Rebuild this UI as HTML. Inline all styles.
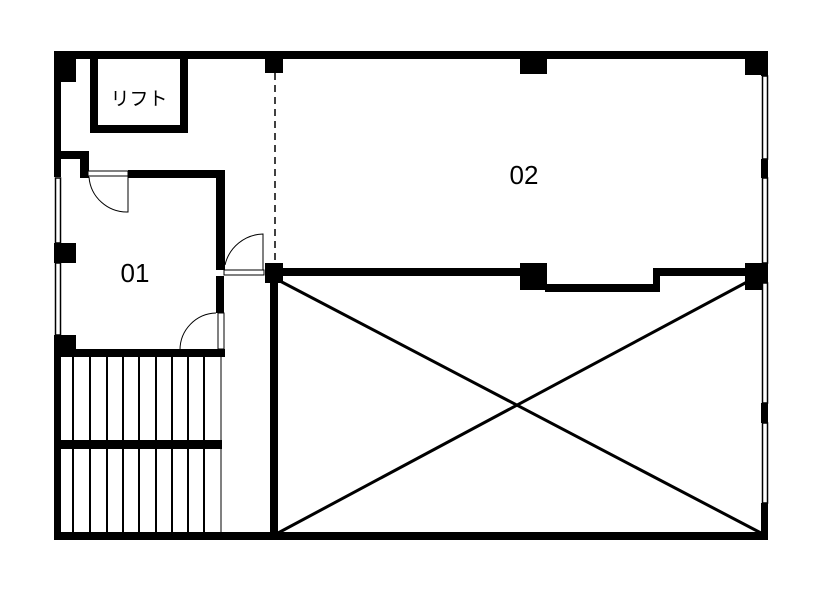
<!DOCTYPE html>
<html><head><style>body{margin:0;background:#fff}svg{display:block}</style></head><body>
<svg width="821" height="593" viewBox="0 0 821 593" xmlns="http://www.w3.org/2000/svg">
<rect width="821" height="593" fill="#fff"/>
<g fill="#000">
<rect x="54" y="51" width="714" height="8"/>
<rect x="54" y="532" width="714" height="8"/>
<rect x="54" y="51" width="7" height="126"/>
<rect x="54" y="151" width="35" height="8"/>
<rect x="80" y="151" width="9" height="27"/>
<rect x="54" y="243" width="22" height="20"/>
<rect x="54" y="335" width="22" height="22"/>
<rect x="54" y="335" width="7" height="205"/>
<rect x="54" y="58" width="22" height="24"/>
<rect x="265" y="58" width="18" height="15"/>
<rect x="520" y="58" width="27" height="16"/>
<rect x="745" y="58" width="23" height="17"/>
<rect x="761" y="51" width="7" height="25"/>
<rect x="761" y="159" width="7" height="19"/>
<rect x="761" y="263" width="7" height="20"/>
<rect x="761" y="403" width="7" height="20"/>
<rect x="761" y="503" width="7" height="37"/>
<rect x="90" y="58" width="8" height="75"/>
<rect x="180" y="58" width="8" height="75"/>
<rect x="90" y="125" width="98" height="8"/>
<rect x="128" y="170" width="97" height="8"/>
<rect x="216" y="170" width="9" height="100"/>
<rect x="216" y="276" width="8" height="37"/>
<rect x="54" y="349" width="171" height="8"/>
<rect x="265" y="263" width="18" height="20"/>
<rect x="270" y="268" width="255" height="8"/>
<rect x="520" y="263" width="27" height="27"/>
<rect x="545" y="284" width="115" height="8"/>
<rect x="653" y="268" width="7" height="24"/>
<rect x="653" y="268" width="95" height="8"/>
<rect x="745" y="263" width="23" height="27"/>
<rect x="270" y="275" width="8" height="265"/>
<rect x="61" y="440" width="161" height="9"/>
</g>
<g fill="#fff" stroke="#000" stroke-width="1.5">
<rect x="55.5" y="178" width="5" height="65"/>
<rect x="55.5" y="263" width="5" height="72"/>
<rect x="762.5" y="76" width="5" height="83"/>
<rect x="762.5" y="178" width="5" height="85"/>
<rect x="762.5" y="283" width="5" height="120"/>
<rect x="762.5" y="423" width="5" height="80"/>
</g>
<g fill="#fff" stroke="#000" stroke-width="1">
<rect x="88" y="171" width="40" height="5"/>
<rect x="224" y="270" width="40" height="5"/>
<rect x="218" y="313" width="6" height="36"/>
</g>
<g fill="none" stroke="#000" stroke-width="1">
<path d="M128 176V212A38 38 0 0 1 89 177"/>
<path d="M263 270V234A40 40 0 0 0 225 265"/>
<path d="M216 313A37 37 0 0 0 180 350"/>
</g>
<line x1="275" y1="73" x2="275" y2="263" stroke="#000" stroke-width="1.5" stroke-dasharray="7,5"/>
<g stroke="#000" stroke-width="2">
<line x1="73" y1="357" x2="73" y2="532"/><line x1="90" y1="357" x2="90" y2="532"/>
<line x1="107" y1="357" x2="107" y2="532"/><line x1="123" y1="357" x2="123" y2="532"/>
<line x1="139" y1="357" x2="139" y2="532"/><line x1="156" y1="357" x2="156" y2="532"/>
<line x1="172" y1="357" x2="172" y2="532"/><line x1="188" y1="357" x2="188" y2="532"/>
<line x1="204" y1="357" x2="204" y2="532"/>
</g>
<line x1="221" y1="357" x2="221" y2="532" stroke="#000" stroke-width="1"/>
<g stroke="#000" stroke-width="3">
<line x1="278" y1="280" x2="761" y2="533"/>
<line x1="278" y1="533" x2="747" y2="282"/>
</g>
<g font-family="Liberation Sans, sans-serif" font-size="26" fill="#000" text-anchor="middle">
<text x="135" y="282">01</text>
<text x="524" y="184">02</text>
</g>
<text x="139" y="105" text-anchor="middle" font-family="'Liberation Sans','Noto Sans CJK JP',sans-serif" font-size="19">リフト</text>
</svg>
</body></html>
